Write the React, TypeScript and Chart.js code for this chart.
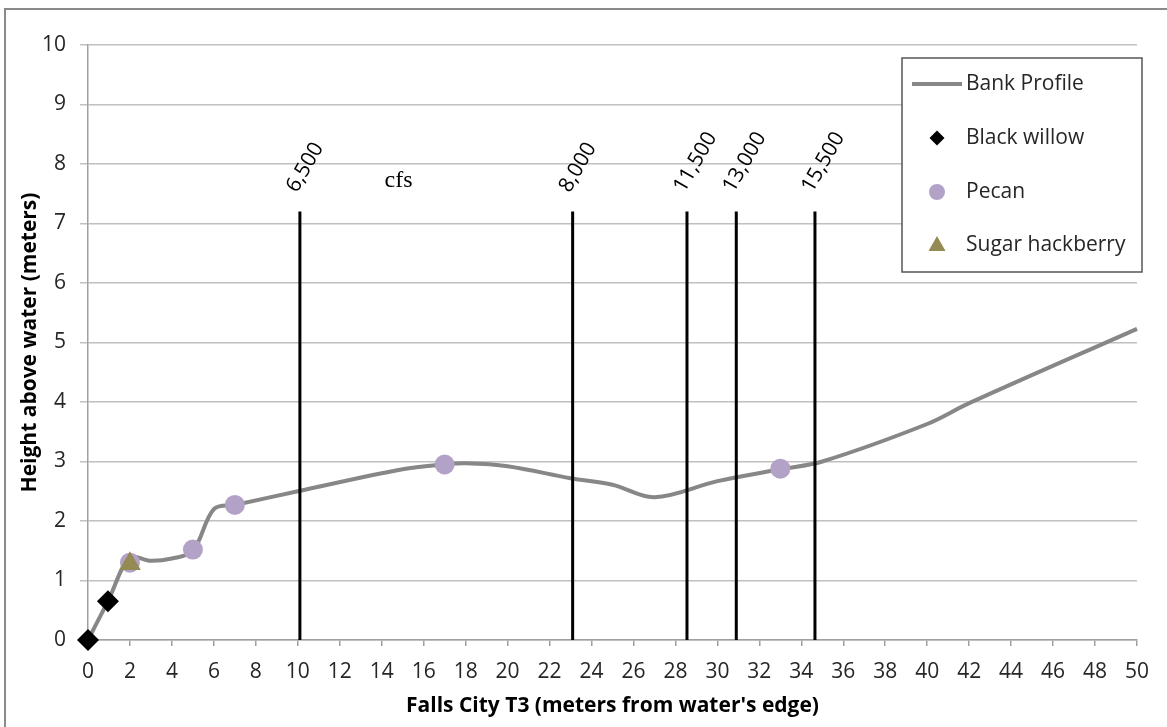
import React, { useEffect, useRef } from "react";
import { Chart, registerables } from "chart.js";

Chart.register(...registerables);

// Bank profile (x: meters from water's edge, y: height above water)
const profileX = [0, 0.95, 2, 3, 4, 5, 6, 7, 10, 15, 17, 18, 20, 23, 25, 27, 30, 33, 35, 40, 42, 50];
const profileY = [0, 0.65, 1.38, 1.33, 1.37, 1.5, 2.2, 2.27, 2.5, 2.87, 2.95, 2.97, 2.92, 2.72, 2.61, 2.4, 2.67, 2.87, 3.0, 3.63, 3.98, 5.23];

// Trees
const willowX = [0, 0.95];
const willowY = [0, 0.65];
const pecanX = [2, 5, 7, 17, 33];
const pecanY = [1.3, 1.52, 2.27, 2.95, 2.88];
const hackberryX = [2];
const hackberryY = [1.28];

// Flow stage lines (cfs)
const flowLabels = ["6,500", "8,000", "11,500", "13,000", "15,500"];
const flowX = [10.1, 23.1, 28.55, 30.9, 34.65];
const flowTop = 7.2;

// Axis ticks
const xMin = 0;
const xMax = 50;
const xStep = 2;
const yMin = 0;
const yMax = 10;
const yStep = 1;

const legendItems = ["Bank Profile", "Black willow", "Pecan", "Sugar hackberry"];

const GRAY_LINE = "#878787";
const PECAN = "#b3a2c7";
const HACK = "#948a54";
const GRID = "#c0c0c0";
const FONT = '"Open Sans"';

const decorPlugin = {
  id: "decor",
  beforeDraw(chart: any) {
    const ctx = chart.ctx;
    ctx.save();
    ctx.fillStyle = "#ffffff";
    ctx.fillRect(0, 0, chart.width, chart.height);
    ctx.strokeStyle = "#8a8a8a";
    ctx.lineWidth = 2;
    ctx.strokeRect(5, 9, chart.width + 20, chart.height + 20);
    ctx.restore();
  },
  afterDraw(chart: any) {
    const ctx = chart.ctx;
    const xs = chart.scales.x;
    const ys = chart.scales.y;
    ctx.save();
    // flow labels
    ctx.fillStyle = "#000";
    ctx.font = `21px ${FONT}`;
    ctx.textAlign = "left";
    ctx.textBaseline = "middle";
    flowLabels.forEach((lab, i) => {
      const px = xs.getPixelForValue(flowX[i]);
      const py = ys.getPixelForValue(flowTop);
      ctx.save();
      ctx.translate(px - 8, py - 21);
      ctx.rotate(-Math.PI / 3);
      ctx.fillText(lab, 0, 0);
      ctx.restore();
    });
    // cfs
    ctx.font = `24px "Liberation Serif"`;
    ctx.textAlign = "center";
    ctx.fillText("cfs", xs.getPixelForValue(14.8), ys.getPixelForValue(7.72));

    // legend box
    const bx = 902, by = 58, bw = 240, bh = 214;
    ctx.fillStyle = "#fff";
    ctx.fillRect(bx, by, bw, bh);
    ctx.strokeStyle = "#555";
    ctx.lineWidth = 1.5;
    ctx.strokeRect(bx, by, bw, bh);
    const rowsY = [84, 138, 192, 245];
    ctx.font = `21px ${FONT}`;
    ctx.textAlign = "left";
    ctx.textBaseline = "middle";
    ctx.fillStyle = "#262626";
    legendItems.forEach((t, i) => ctx.fillText(t, 966, rowsY[i]));
    // symbols
    ctx.strokeStyle = GRAY_LINE;
    ctx.lineWidth = 4;
    ctx.beginPath();
    ctx.moveTo(912, rowsY[0]);
    ctx.lineTo(962, rowsY[0]);
    ctx.stroke();
    const mx = 937;
    ctx.fillStyle = "#000";
    ctx.beginPath();
    const d = 7.5;
    ctx.moveTo(mx, rowsY[1] - d);
    ctx.lineTo(mx + d, rowsY[1]);
    ctx.lineTo(mx, rowsY[1] + d);
    ctx.lineTo(mx - d, rowsY[1]);
    ctx.closePath();
    ctx.fill();
    ctx.fillStyle = PECAN;
    ctx.beginPath();
    ctx.arc(mx, rowsY[2], 8, 0, Math.PI * 2);
    ctx.fill();
    ctx.fillStyle = HACK;
    ctx.beginPath();
    ctx.moveTo(mx, rowsY[3] - 9);
    ctx.lineTo(mx + 8.5, rowsY[3] + 6);
    ctx.lineTo(mx - 8.5, rowsY[3] + 6);
    ctx.closePath();
    ctx.fill();
    ctx.restore();
  },
};

const zip = (xs: number[], ys: number[]) => xs.map((x, i) => ({ x, y: ys[i] }));

export default function App() {
  const ref = useRef<HTMLCanvasElement>(null);
  useEffect(() => {
    document.body.style.margin = "0";
    const canvas = ref.current;
    if (!canvas) return;
    const flowSets = flowX.map((fx, i) => ({
      label: "flow " + flowLabels[i],
      data: [
        { x: fx, y: 0 },
        { x: fx, y: flowTop },
      ],
      borderColor: "#000",
      borderWidth: 3,
      pointRadius: 0,
      showLine: true,
      tension: 0,
      order: 4,
    }));
    const chart = new Chart(canvas, {
      type: "scatter",
      data: {
        datasets: [
          {
            label: "Bank Profile",
            data: zip(profileX, profileY),
            showLine: true,
            borderColor: GRAY_LINE,
            borderWidth: 4,
            pointRadius: 0,
            tension: 0.35,
            order: 5,
            clip: false,
          } as any,
          {
            label: "Black willow",
            data: zip(willowX, willowY),
            pointStyle: "rectRot",
            pointRadius: 11,
            backgroundColor: "#000",
            borderColor: "#000",
            borderWidth: 0,
            order: 3,
            clip: false,
          },
          {
            label: "Pecan",
            data: zip(pecanX, pecanY),
            pointStyle: "circle",
            pointRadius: 10,
            backgroundColor: PECAN,
            borderColor: PECAN,
            borderWidth: 0,
            order: 2,
            clip: false,
          },
          {
            label: "Sugar hackberry",
            data: zip(hackberryX, hackberryY),
            pointStyle: "triangle",
            pointRadius: 12.5,
            backgroundColor: HACK,
            borderColor: HACK,
            borderWidth: 0,
            order: 1,
            clip: false,
          },
          ...flowSets,
        ],
      },
      options: {
        responsive: false,
        animation: false,
        layout: { padding: { left: 0, right: 30, top: 45, bottom: 0 } },
        plugins: {
          legend: { display: false },
          tooltip: { enabled: false },
        },
        scales: {
          x: {
            type: "linear",
            min: xMin,
            max: xMax,
            ticks: {
              stepSize: xStep,
              autoSkip: false,
              maxRotation: 0,
              color: "#262626",
              font: { family: FONT, size: 21 },
              padding: 13,
            },
            grid: {
              drawOnChartArea: false,
              drawTicks: true,
              tickLength: 6,
              color: "#a0a0a0",
              lineWidth: 1.5,
            },
            border: { color: "#a0a0a0", width: 1.5 },
            title: {
              display: true,
              text: "Falls City T3 (meters from water's edge)",
              color: "#000",
              font: { family: FONT, size: 21, weight: "bold" },
              padding: { top: 0, bottom: 8 },
            },
            afterFit: (s: any) => {
              s.height = 87;
            },
          },
          y: {
            type: "linear",
            min: yMin,
            max: yMax,
            ticks: {
              stepSize: yStep,
              color: "#262626",
              font: { family: FONT, size: 21 },
              padding: 14,
            },
            grid: {
              color: GRID,
              lineWidth: 1.5,
              drawTicks: true,
              tickLength: 8,
            },
            border: { color: "#a0a0a0", width: 1.5 },
            title: {
              display: true,
              text: "Height above water (meters)",
              color: "#000",
              font: { family: FONT, size: 21, weight: "bold" },
              padding: { top: 17, bottom: 0 },
            },
            afterFit: (s: any) => {
              s.width = 88;
            },
          },
        },
      },
      plugins: [decorPlugin],
    } as any);
    return () => chart.destroy();
  }, []);
  return <canvas ref={ref} width={1167} height={727} style={{ display: "block" }} />;
}
